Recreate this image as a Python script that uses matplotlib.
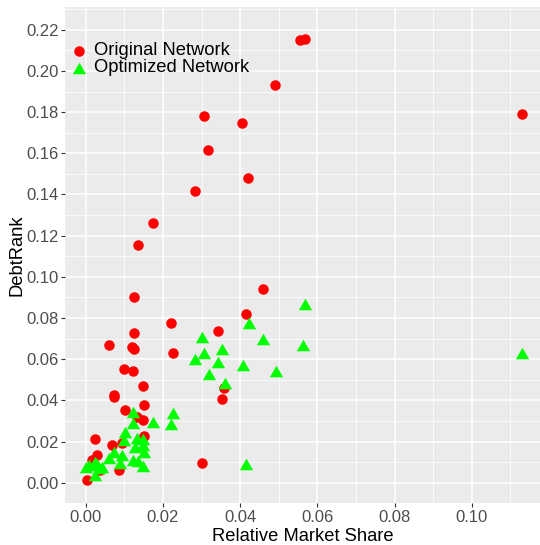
import matplotlib
matplotlib.use("Agg")
import matplotlib.pyplot as plt
from matplotlib.ticker import MultipleLocator, FormatStrFormatter

plt.rcParams["font.family"] = ["Liberation Sans", "DejaVu Sans"]

# Original network: (relative market share, DebtRank)
orig_share = [
    0.0003, 0.0016, 0.0024, 0.0028, 0.0037, 0.0085, 0.0067, 0.0093, 0.0152,
    0.0102, 0.0151, 0.0149, 0.0132, 0.0072, 0.0072, 0.0149, 0.0123, 0.0098,
    0.0124, 0.0120, 0.0059, 0.0125, 0.0124, 0.0135, 0.0174, 0.0220, 0.0227,
    0.0300, 0.0342, 0.0353, 0.0359, 0.0414, 0.0459, 0.0284, 0.0420, 0.0317,
    0.0405, 0.0307, 0.0490, 0.0556, 0.0568, 0.1130,
]
orig_rank = [
    0.0013, 0.0110, 0.0212, 0.0134, 0.0062, 0.0062, 0.0183, 0.0194, 0.0228,
    0.0353, 0.0377, 0.0304, 0.0320, 0.0428, 0.0418, 0.0469, 0.0542, 0.0552,
    0.0649, 0.0660, 0.0668, 0.0726, 0.0900, 0.1153, 0.1259, 0.0775, 0.0629,
    0.0097, 0.0738, 0.0405, 0.0458, 0.0819, 0.0940, 0.1415, 0.1478, 0.1614,
    0.1745, 0.1780, 0.1930, 0.2148, 0.2153, 0.1789,
]

# Optimized network
opt_share = [
    0.0001, 0.0007, 0.0024, 0.0024, 0.0030, 0.0041, 0.0033, 0.0059, 0.0072,
    0.0089, 0.0093, 0.0100, 0.0102, 0.0123, 0.0136, 0.0128, 0.0132, 0.0147,
    0.0149, 0.0152, 0.0149, 0.0122, 0.0123, 0.0175, 0.0221, 0.0227, 0.0284,
    0.0301, 0.0307, 0.0318, 0.0342, 0.0354, 0.0361, 0.0407, 0.0414, 0.0422,
    0.0460, 0.0493, 0.0562, 0.0568, 0.1131,
]
opt_rank = [
    0.0075, 0.0086, 0.0037, 0.0102, 0.0090, 0.0078, 0.0070, 0.0118, 0.0150,
    0.0094, 0.0134, 0.0207, 0.0245, 0.0110, 0.0105, 0.0175, 0.0215, 0.0211,
    0.0183, 0.0150, 0.0080, 0.0288, 0.0344, 0.0296, 0.0283, 0.0340, 0.0599,
    0.0708, 0.0628, 0.0527, 0.0586, 0.0650, 0.0484, 0.0571, 0.0091, 0.0778,
    0.0696, 0.0543, 0.0670, 0.0870, 0.0629,
]

# equilateral triangle like ggplot's shape 17
tri = [(0, 0.866), (-1, -0.866), (1, -0.866), (0, 0.866)]

fig = plt.figure(figsize=(5.4, 5.45), dpi=100)
ax = fig.add_axes([65 / 540, 1 - 503.3 / 545, 475 / 540, 496.6 / 545])
ax.set_facecolor("#EBEBEB")
for s in ax.spines.values():
    s.set_visible(False)

ax.scatter(orig_share, orig_rank, s=57, marker="o", color="#FF0000",
           linewidths=0, label="Original Network", zorder=3)
ax.scatter(opt_share, opt_rank, s=92, marker=tri, color="#00FF00",
           linewidths=0, label="Optimized Network", zorder=4)

ax.set_xlim(-0.0054, 0.1177)
ax.set_ylim(-0.0100, 0.2312)

ax.xaxis.set_major_locator(MultipleLocator(0.02))
ax.xaxis.set_minor_locator(MultipleLocator(0.01))
ax.yaxis.set_major_locator(MultipleLocator(0.02))
ax.yaxis.set_minor_locator(MultipleLocator(0.01))
ax.xaxis.set_major_formatter(FormatStrFormatter("%.2f"))
ax.yaxis.set_major_formatter(FormatStrFormatter("%.2f"))

ax.grid(which="major", color="white", linewidth=1.1)
ax.grid(which="minor", color="white", linewidth=0.55)
ax.set_axisbelow(True)
ax.tick_params(which="major", length=2.75, width=0.8, color="#333333",
               labelsize=12, labelcolor="#4D4D4D", pad=2)
ax.tick_params(which="minor", length=0)

ax.set_xlabel("Relative Market Share", fontsize=13.2, labelpad=2)
ax.set_ylabel("DebtRank", fontsize=13.2, labelpad=0)

ax.legend(loc="upper left", bbox_to_anchor=(0.012, 0.928), frameon=False,
          fontsize=13.2, borderpad=0, borderaxespad=0, handlelength=0.9,
          handletextpad=0.35, labelspacing=0.0, markerscale=1)

fig.savefig("out.png", dpi=100)
